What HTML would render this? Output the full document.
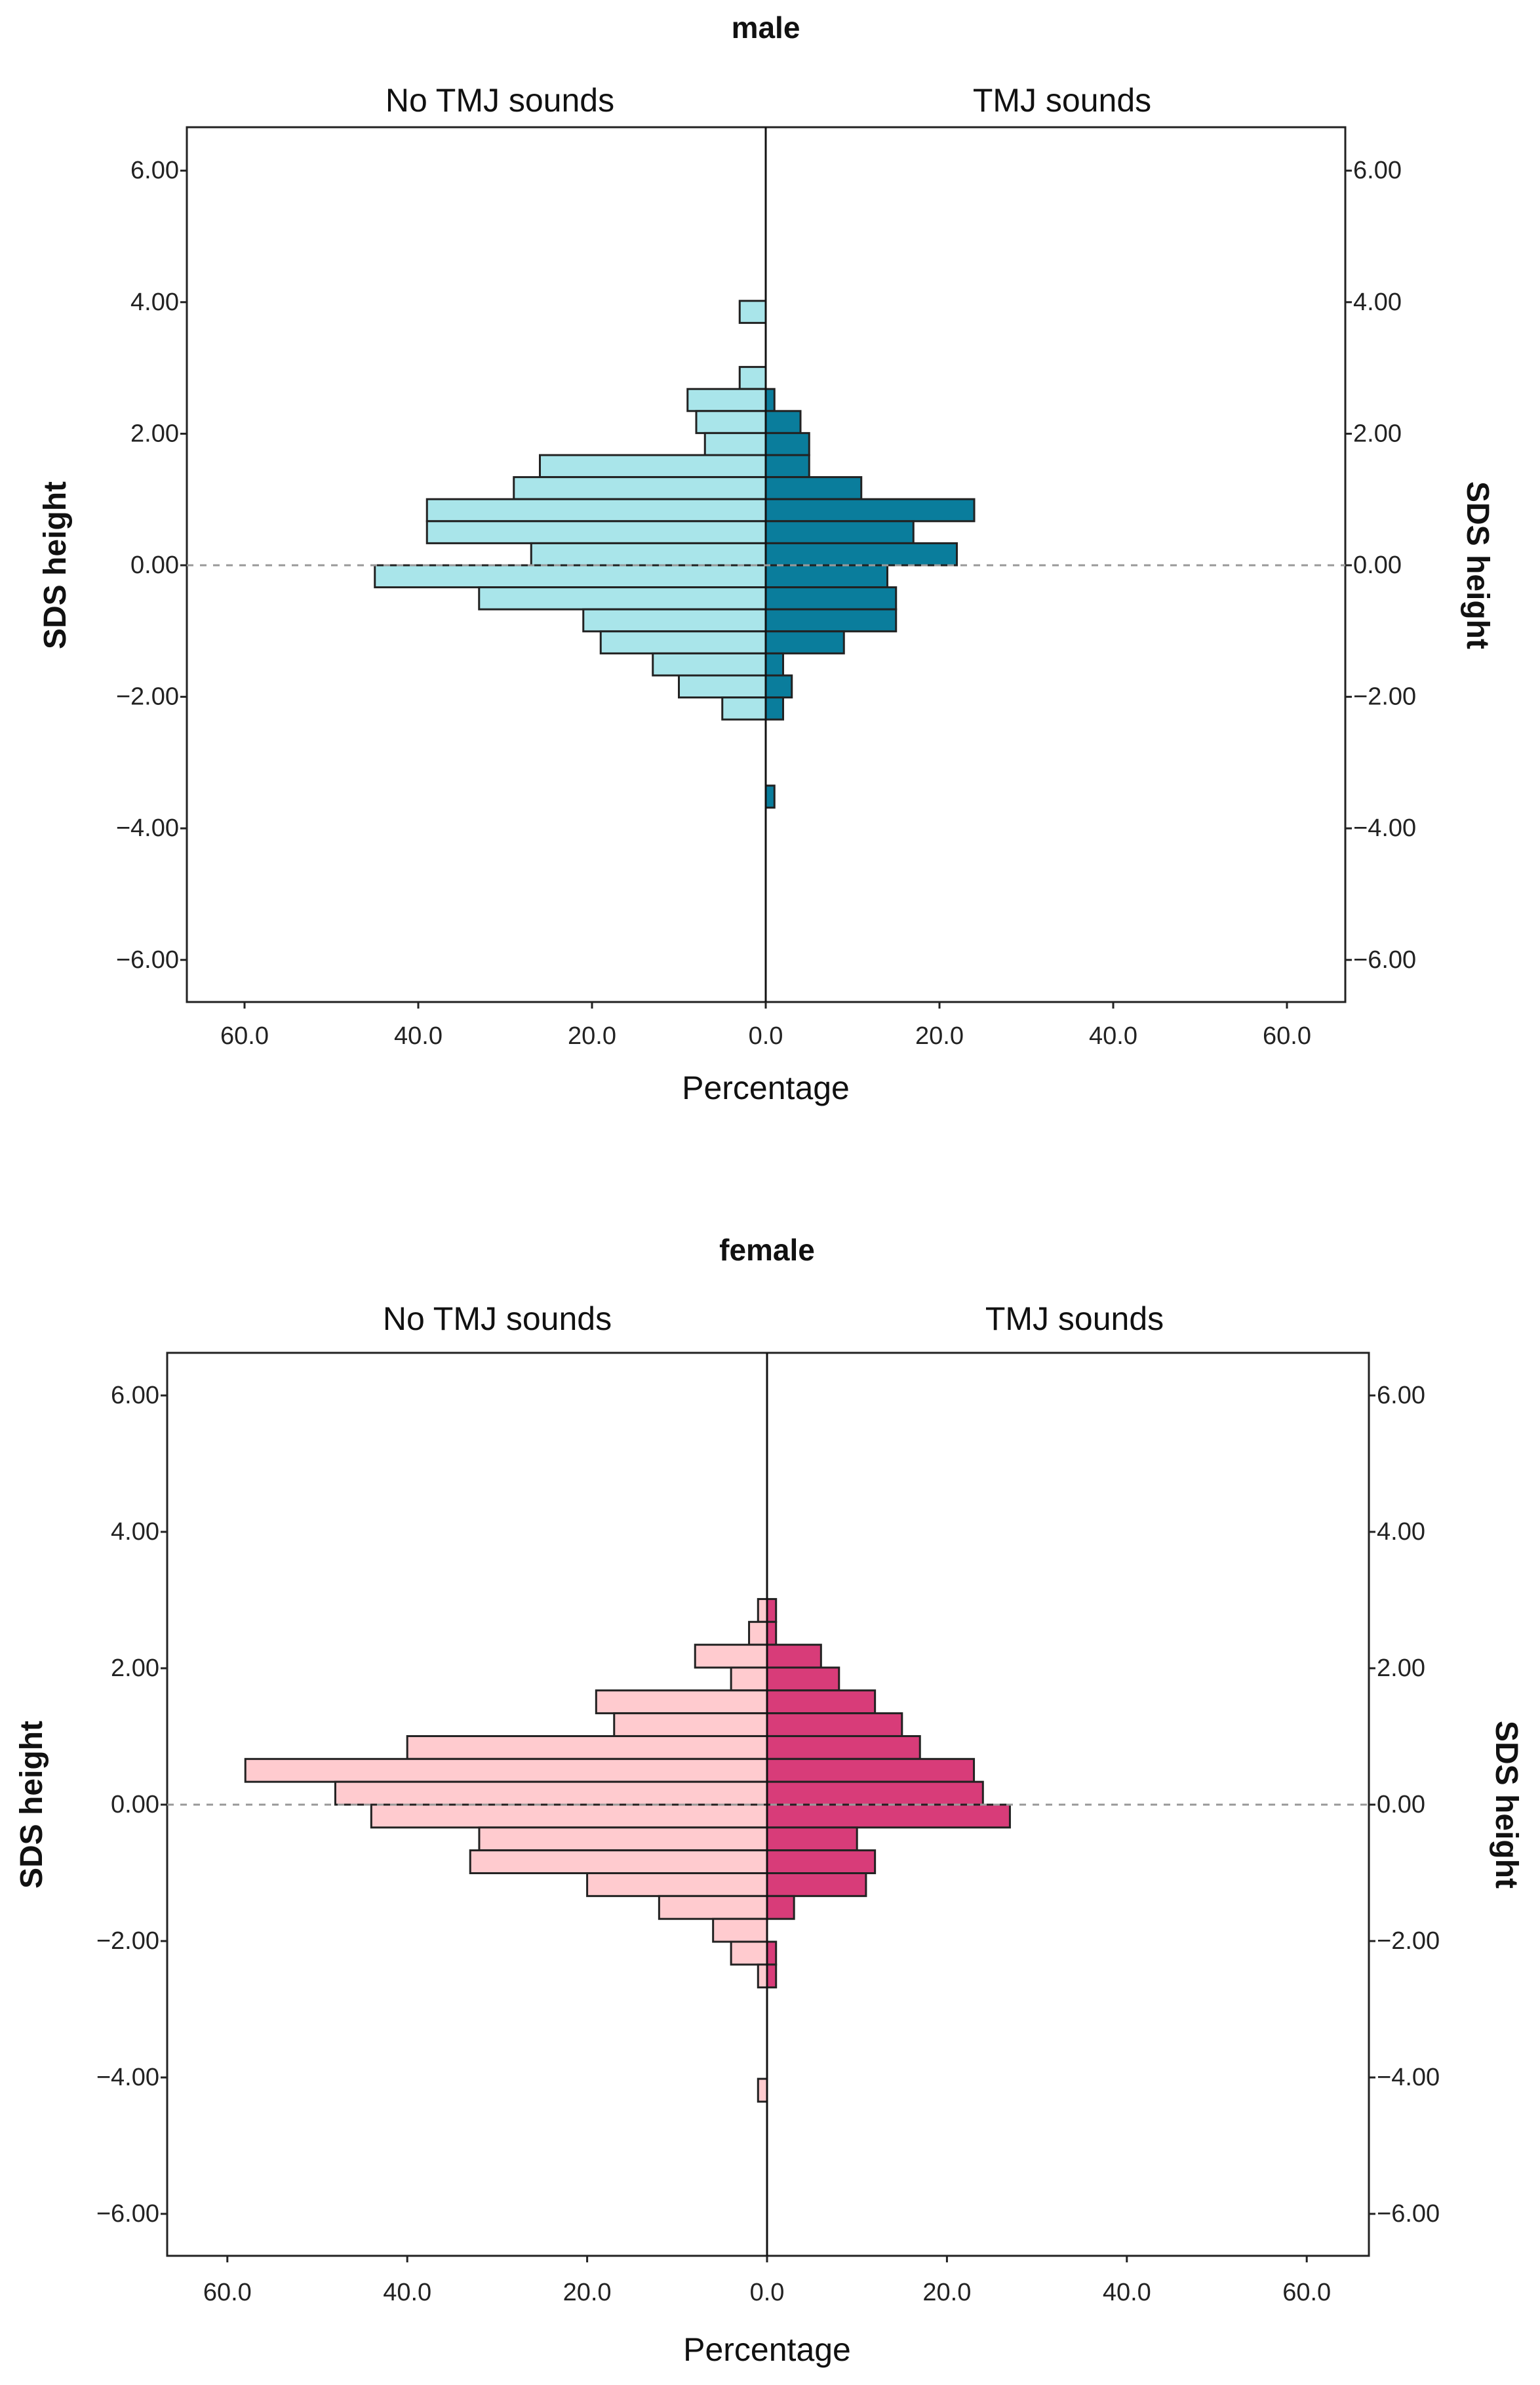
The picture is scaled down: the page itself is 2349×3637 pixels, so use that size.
<!DOCTYPE html>
<html><head><meta charset="utf-8">
<style>
html,body{margin:0;padding:0;background:#fff;}
svg{display:block;font-family:"Liberation Sans",sans-serif;}
</style></head>
<body>
<svg id="chart" width="2349" height="3637" viewBox="0 0 2349 3637" xmlns="http://www.w3.org/2000/svg"></svg>
<script>
// bin index k covers SDS [k*BIN, (k+1)*BIN]
const BIN = 0.335;
const maleBins     = [11, 8, 7, 6, 5, 4, 3, 2, 1, 0, -1, -2, -3, -4, -5, -6, -7, -11];
const maleNoTMJ    = [3, 3, 9, 8, 7, 26, 29, 39, 39, 27, 45, 33, 21, 19, 13, 10, 5, 0];
const maleTMJ      = [0, 0, 1, 4, 5, 5, 11, 24, 17, 22, 14, 15, 15, 9, 2, 3, 2, 1];
const femaleBins   = [8, 7, 6, 5, 4, 3, 2, 1, 0, -1, -2, -3, -4, -5, -6, -7, -8, -13];
const femaleNoTMJ  = [1, 2, 8, 4, 19, 17, 40, 58, 48, 44, 32, 33, 20, 12, 6, 4, 1, 1];
const femaleTMJ    = [1, 1, 6, 8, 12, 15, 17, 23, 24, 27, 10, 12, 11, 3, 0, 1, 1, 0];
const yTicks = [6, 4, 2, 0, -2, -4, -6];
const xTicks = [60, 40, 20, 0, 20, 40, 60];

const svg = document.getElementById('chart');
const NS = 'http://www.w3.org/2000/svg';
function mk(tag, attrs, parent){const e=document.createElementNS(NS,tag);for(const k in attrs)e.setAttribute(k,attrs[k]);(parent||svg).appendChild(e);return e;}

function panel(cfg){
  const g = mk('g',{});
  
  
  const yScale = v => cfg.y0 - v*cfg.yu;
  const xScale = (p, side) => cfg.cx + side*p*cfg.xu;
  let t = mk('text',{x:cfg.cx,y:cfg.titleY,'text-anchor':'middle','font-size':46,'font-weight':'bold',fill:'#111'},g);
  t.textContent = cfg.name;
  
  
  t = mk('text',{x:(cfg.left+cfg.cx)/2+cfg.hOff,y:cfg.headY,'text-anchor':'middle','font-size':50,fill:'#111'},g);
  t.textContent = 'No TMJ sounds';
  
  
  t = mk('text',{x:(cfg.right+cfg.cx)/2+10,y:cfg.headY,'text-anchor':'middle','font-size':50,fill:'#111'},g);
  t.textContent = 'TMJ sounds';
  
  
  const fr = mk('rect',{x:cfg.left,y:cfg.top,width:cfg.right-cfg.left,height:cfg.bottom-cfg.top,fill:'#fff',stroke:'#222','stroke-width':3},g);
  
  
  const bh = BIN*cfg.yu;
  cfg.bins.forEach((k,i)=>{
    const yTop = yScale((k+1)*BIN);
    const a = cfg.left_vals[i], b = cfg.right_vals[i];
    if(a>0){
      const r = mk('rect',{x:xScale(a,-1),y:yTop,width:a*cfg.xu,height:bh,fill:cfg.lc,stroke:'#222','stroke-width':3},g);
      
      
    }
    if(b>0){
      const r = mk('rect',{x:cfg.cx,y:yTop,width:b*cfg.xu,height:bh,fill:cfg.rc,stroke:'#222','stroke-width':3},g);
      
      
    }
  });
  const cl = mk('line',{x1:cfg.cx,x2:cfg.cx,y1:cfg.top,y2:cfg.bottom,stroke:'#111','stroke-width':3},g);
  
  
  const zl = mk('line',{x1:cfg.left,x2:cfg.right,y1:yScale(0),y2:yScale(0),stroke:'#999','stroke-width':3,'stroke-dasharray':'10 10'},g);
  
  
  yTicks.forEach(v=>{
    const y = yScale(v);
    mk('line',{x1:cfg.left-10,x2:cfg.left,y1:y,y2:y,stroke:'#222','stroke-width':3},g);
    mk('line',{x1:cfg.right,x2:cfg.right+10,y1:y,y2:y,stroke:'#222','stroke-width':3},g);
    const lab = v.toFixed(2).replace('-','\u2212');
    let tl = mk('text',{x:cfg.left-12,y:y+12,'text-anchor':'end','font-size':38,fill:'#222'},g);
    tl.textContent = lab;
    
    
    tl = mk('text',{x:cfg.right+12,y:y+12,'text-anchor':'start','font-size':38,fill:'#222'},g);
    tl.textContent = lab;
    
    
  });
  xTicks.forEach((v,i)=>{
    const side = i<3?-1:1;
    const x = xScale(v, side);
    mk('line',{x1:x,x2:x,y1:cfg.bottom,y2:cfg.bottom+10,stroke:'#222','stroke-width':3},g);
    const tl = mk('text',{x:x,y:cfg.xLabY,'text-anchor':'middle','font-size':38,fill:'#222'},g);
    tl.textContent = v.toFixed(1);
    
    
  });
  t = mk('text',{x:cfg.cx,y:cfg.xTitleY,'text-anchor':'middle','font-size':50,fill:'#111'},g);
  t.textContent = 'Percentage';
  
  
  const ym = yScale(0);
  t = mk('text',{x:cfg.ylx,y:ym,'text-anchor':'middle','font-size':48,'font-weight':'bold',fill:'#111',transform:`rotate(-90 ${cfg.ylx} ${ym})`},g);
  t.textContent = 'SDS height';
  
  
  t = mk('text',{x:cfg.yrx,y:ym,'text-anchor':'middle','font-size':48,'font-weight':'bold',fill:'#111',transform:`rotate(90 ${cfg.yrx} ${ym})`},g);
  t.textContent = 'SDS height';
  
  
}

panel({name:'male',left:285,right:2052,top:194,bottom:1528,cx:1168,y0:862,yu:100.3,xu:13.25,
  titleY:58,headY:170,hOff:36,xLabY:1592,xTitleY:1676,ylx:100,yrx:2238,
  bins:maleBins,left_vals:maleNoTMJ,right_vals:maleTMJ,lc:'#a9e5ea',rc:'#0a7d9c'});
panel({name:'female',left:255,right:2088,top:2063,bottom:3440,cx:1170,y0:2752,yu:104,xu:13.72,
  titleY:1922,headY:2028,hOff:46,xLabY:3508,xTitleY:3600,ylx:64,yrx:2282,
  bins:femaleBins,left_vals:femaleNoTMJ,right_vals:femaleTMJ,lc:'#ffcbcf',rc:'#d83c79'});
</script>
</body></html>
